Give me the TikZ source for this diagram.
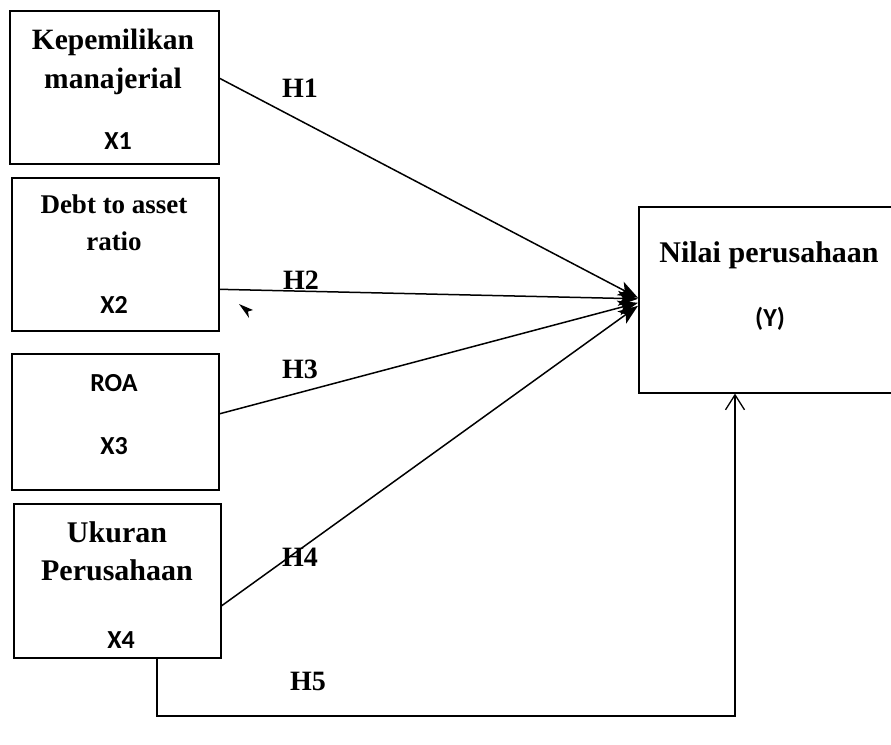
\documentclass[tikz,border=0pt]{standalone}
\usepackage{fontspec}
\setmainfont{Liberation Serif}
\newfontfamily\calib{Carlito}
\usetikzlibrary{arrows.meta}
\begin{document}
\begin{tikzpicture}[x=1pt,y=-1pt,
  box/.style={draw,line width=1.6pt,rectangle,minimum width=#1,inner sep=0pt,anchor=north west},
  ttl/.style={font=\fontsize{30}{36}\selectfont\bfseries,inner sep=0pt,anchor=base},
  cal/.style={font=\calib\fontsize{26}{30}\selectfont\bfseries,inner sep=0pt,anchor=base},
  hl/.style={font=\fontsize{28}{32}\selectfont\bfseries,inner sep=0pt,anchor=base},
  conn/.style={line width=1.5pt,-{Stealth[length=20pt,width=15pt,inset=5pt]}},
  back/.style={line width=1.4pt,-{Straight Barb[length=15pt,width=19pt,line width=1.3pt]}}]
\useasboundingbox (0,0) rectangle (891,744);
\clip (0,0) rectangle (891,744);
% boxes
\node[box=209pt,minimum height=153pt] (b1) at (9,10) {};
\node[box=207pt,minimum height=153pt] (b2) at (11,177) {};
\node[box=207pt,minimum height=136pt] (b3) at (11,353) {};
\node[box=207pt,minimum height=154pt] (b4) at (13,503) {};
\node[box=262pt,minimum height=186pt] (y) at (638,206) {};
% texts
\node[ttl,font=\fontsize{29.5}{36}\selectfont\bfseries] (t1a) at (113,49) {Kepemilikan};
\node[ttl,font=\fontsize{29.5}{36}\selectfont\bfseries] (t1b) at (113,88) {manajerial};
\node[cal] (t1c) at (118,149) {X1};
\node[ttl,font=\fontsize{27}{32}\selectfont\bfseries] (t2a) at (114,213) {Debt to asset};
\node[ttl,font=\fontsize{27}{32}\selectfont\bfseries] (t2b) at (114,250) {ratio};
\node[cal] (t2c) at (114,313) {X2};
\node[cal] (t3a) at (114,391) {ROA};
\node[cal] (t3c) at (114,454) {X3};
\node[ttl] (t4a) at (117,542) {Ukuran};
\node[ttl] (t4b) at (117,580) {Perusahaan};
\node[cal] (t4c) at (121,648) {X4};
\node[ttl] (tya) at (769,262) {Nilai perusahaan};
\node[cal] (tyb) at (770,326) {(Y)};
% hypothesis labels
\node[hl] (h1) at (300,97) {H1};
\node[hl] (h2) at (301,289) {H2};
\node[hl] (h3) at (300,378) {H3};
\node[hl] (h4) at (300,566) {H4};
\node[hl] (h5) at (308,690) {H5};
% connectors
\draw[conn] ([yshift=9pt]b1.east) -- ([yshift=2pt]y.west);
\draw[conn] ([yshift=-35pt]b2.east) -- ([yshift=1pt]y.west);
\draw[conn] ([yshift=8pt]b3.east) -- ([yshift=-3pt]y.west);
\draw[conn] ([yshift=-25pt]b4.east) -- ([yshift=-6pt]y.west);
\coordinate (c1) at (157,716);
\coordinate (c2) at (735,716);
\draw[back] (b4.south -| c1) -- (c1) -- (c2) -- (y.south -| c2);
% stray arrowhead mark
\fill (239,304) -- (253,310) -- (248,311.5) -- (249,318) -- cycle;
\end{tikzpicture}
\end{document}
